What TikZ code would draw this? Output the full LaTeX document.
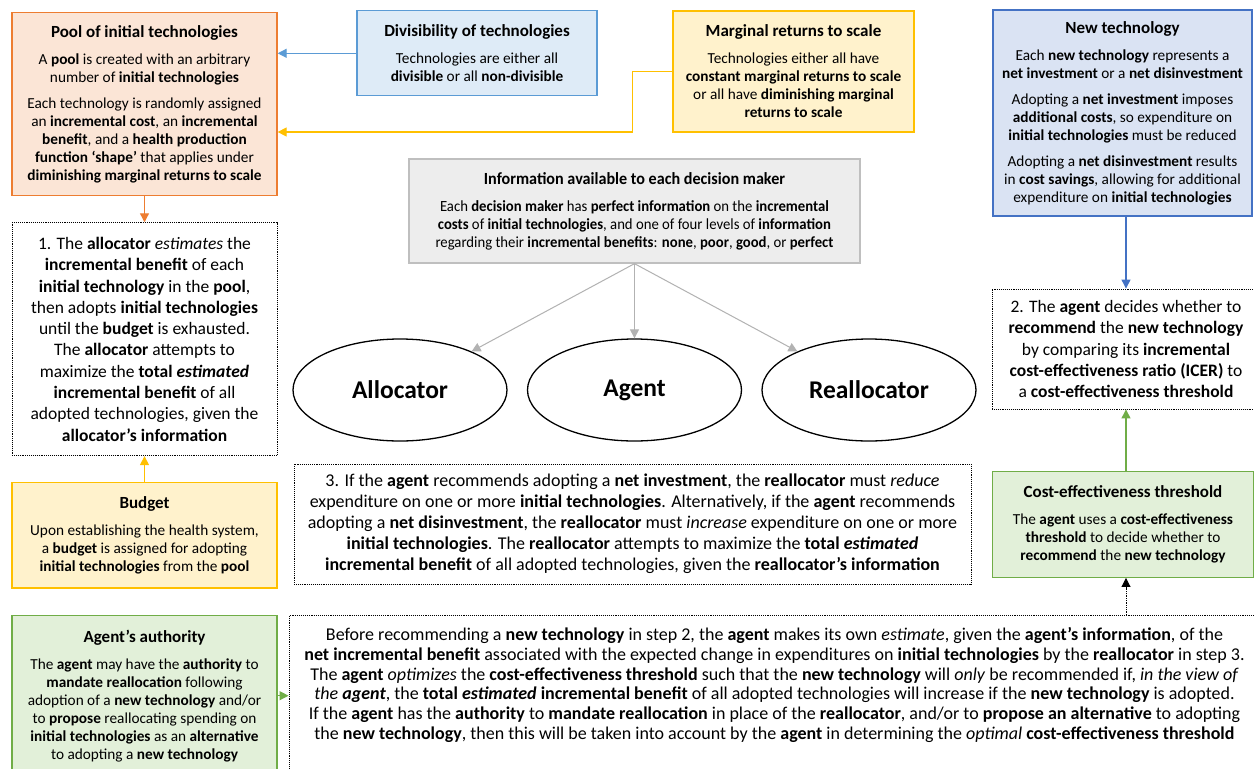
\documentclass[tikz,border=0pt]{standalone}
\usepackage{fontspec}
\setmainfont{Carlito}
\newfontfamily\narrowfont{Carlito}[FakeStretch=0.95]
\usepackage{tikz}
\usetikzlibrary{arrows.meta,positioning,shapes.geometric}
\definecolor{poolorange}{HTML}{ED7D31}
\definecolor{poolfill}{HTML}{FBE5D6}
\definecolor{divblue}{HTML}{5B9BD5}
\definecolor{divfill}{HTML}{DEEBF7}
\definecolor{margyellow}{HTML}{FFC000}
\definecolor{margfill}{HTML}{FFF2CC}
\definecolor{newblue}{HTML}{4472C4}
\definecolor{newfill}{HTML}{DAE3F3}
\definecolor{infogray}{HTML}{BFBFBF}
\definecolor{infofill}{HTML}{EDEDED}
\definecolor{cetgreen}{HTML}{70AD47}
\definecolor{cetfill}{HTML}{E2F0D9}
\newcommand{\boxtitle}[1]{{\fontsize{17}{20}\selectfont\bfseries #1}}
\newcommand{\bodytext}{\fontsize{15.3}{18}\selectfont}
\newcommand{\steptext}{\fontsize{17.5}{21.3}\selectfont}

\begin{document}
\begin{tikzpicture}[x=1pt,y=-1pt,
  box/.style={draw,line width=1.3pt,align=center,inner sep=0pt,font=\bodytext},
  stepbox/.style={draw=black,densely dotted,line width=0.9pt,align=center,inner sep=0pt,font=\steptext},
  decider/.style={ellipse,draw,line width=1.3pt,minimum width=214pt,minimum height=102pt,inner sep=0pt,font=\fontsize{25.5}{28}\selectfont\bfseries},
  arrow/.style={-{Triangle[length=9pt,width=9pt]},line width=1.3pt}
]
\clip (0,0) rectangle (1254,769);
\fill[white] (0,0) rectangle (1254,769);
% inputs along the top
\node[box,draw=poolorange,fill=poolfill,minimum width=265pt,minimum height=183pt] (pool) at (144.5,104.3) {\boxtitle{Pool of initial technologies}\\[9pt]
A \textbf{pool} is created with an arbitrary\\ number of \textbf{initial technologies}\\[8pt]
Each technology is randomly assigned\\ an \textbf{incremental cost}, an \textbf{incremental}\\ \textbf{benefit}, and a \textbf{health production}\\ \textbf{function ‘shape’} that applies under\\ \textbf{diminishing marginal returns to scale}};
\node[box,draw=divblue,fill=divfill,minimum width=240pt,minimum height=85pt] (divis) at (477,53.3) {\boxtitle{Divisibility of technologies}\\[9pt]
Technologies are either all\\ \textbf{divisible} or all \textbf{non-divisible}};
\node[box,draw=margyellow,fill=margfill,minimum width=241pt,minimum height=121pt] (margin) at (793.5,71.5) {\boxtitle{Marginal returns to scale}\\[9pt]
Technologies either all have\\ \textbf{constant marginal returns to scale}\\ or all have \textbf{diminishing marginal}\\ \textbf{returns to scale}};
\node[box,draw=newblue,fill=newfill,minimum width=259pt,minimum height=206pt] (newtech) at (1122.5,113) {\boxtitle{New technology}\\[9pt]
Each \textbf{new technology} represents a\\ \textbf{net investment} or a \textbf{net disinvestment}\\[8pt]
Adopting a \textbf{net investment} imposes\\ \textbf{additional costs}, so expenditure on\\ \textbf{initial technologies} must be reduced\\[8pt]
Adopting a \textbf{net disinvestment} results\\ in \textbf{cost savings}, allowing for additional\\ expenditure on \textbf{initial technologies}};
% decision makers
\node[box,draw=infogray,fill=infofill,minimum width=451pt,minimum height=104pt,font=\fontsize{15.5}{18}\narrowfont] (info) at (634.5,211) {\boxtitle{Information available to each decision maker}\\[9pt]
Each \textbf{decision maker} has \textbf{perfect information} on the \textbf{incremental}\\ \textbf{costs} of \textbf{initial technologies}, and one of four levels of \textbf{information}\\ regarding their \textbf{incremental benefits}: \textbf{none}, \textbf{poor}, \textbf{good}, or \textbf{perfect}};
\node[decider] (allocator) at (400,390) {Allocator};
\node[decider] (agent) at (634.5,390) {Agent};
\node[decider] (reallocator) at (869,390) {Reallocator};
% steps
\node[stepbox,minimum width=265pt,minimum height=233pt] (stepone) at (144.5,339.2) {1. The \textbf{allocator} \textit{estimates} the\\ \textbf{incremental benefit} of each\\ \textbf{initial technology} in the \textbf{pool},\\ then adopts \textbf{initial technologies}\\ until the \textbf{budget} is exhausted.\\ The \textbf{allocator} attempts to\\ maximize the \textbf{total \textit{estimated}}\\ \textbf{incremental benefit} of all\\ adopted technologies, given the\\ \textbf{allocator’s information}};
\node[stepbox,minimum width=268pt,minimum height=120pt] (steptwo) at (1126,349) {2. The \textbf{agent} decides whether to\\ \textbf{recommend} the \textbf{new technology}\\ by comparing its \textbf{incremental}\\ \textbf{cost-effectiveness ratio (ICER)} to\\ a \textbf{cost-effectiveness threshold}};
\node[stepbox,minimum width=677pt,minimum height=120pt,font=\fontsize{18}{21}\selectfont] (stepthree) at (632.5,524) {3. If the \textbf{agent} recommends adopting a \textbf{net investment}, the \textbf{reallocator} must \textit{reduce}\\ expenditure on one or more \textbf{initial technologies}. Alternatively, if the \textbf{agent} recommends\\ adopting a \textbf{net disinvestment}, the \textbf{reallocator} must \textit{increase} expenditure on one or more\\ \textbf{initial technologies}. The \textbf{reallocator} attempts to maximize the \textbf{total \textit{estimated}}\\ \textbf{incremental benefit} of all adopted technologies, given the \textbf{reallocator’s information}};
% lower inputs
\node[box,draw=margyellow,fill=margfill,minimum width=265pt,minimum height=105.3pt] (budget) at (144.5,535.3) {\boxtitle{Budget}\\[9pt]
Upon establishing the health system,\\ a \textbf{budget} is assigned for adopting\\ \textbf{initial technologies} from the \textbf{pool}};
\node[box,draw=cetgreen,fill=cetfill,minimum width=261pt,minimum height=105.6pt] (costeff) at (1123,524.5) {\boxtitle{Cost-effectiveness threshold}\\[9pt]
The \textbf{agent} uses a \textbf{cost-effectiveness}\\ \textbf{threshold} to decide whether to\\ \textbf{recommend} the \textbf{new technology}};
\node[box,draw=cetgreen,fill=cetfill,minimum width=265pt,minimum height=160pt] (authority) at (144.5,695.7) {\boxtitle{Agent’s authority}\\[9pt]
The \textbf{agent} may have the \textbf{authority} to\\ \textbf{mandate reallocation} following\\ adoption of a \textbf{new technology} and/or\\ to \textbf{propose} reallocating spending on\\ \textbf{initial technologies} as an \textbf{alternative}\\ to adopting a \textbf{new technology}};
\node[stepbox,anchor=north,minimum width=971pt,inner ysep=12pt,font=\fontsize{18}{19.8}\selectfont] (optimize) at (774.5,615) {Before recommending a \textbf{new technology} in step 2, the \textbf{agent} makes its own \textit{estimate}, given the \textbf{agent’s information}, of the\\ \textbf{net incremental benefit} associated with the expected change in expenditures on \textbf{initial technologies} by the \textbf{reallocator} in step 3.\\ The \textbf{agent} \textit{optimizes} the \textbf{cost-effectiveness threshold} such that the \textbf{new technology} will \textit{only} be recommended if, \textit{in the view of}\\ \textit{the \textbf{agent}}, the \textbf{total \textit{estimated}} \textbf{incremental benefit} of all adopted technologies will increase if the \textbf{new technology} is adopted.\\ If the \textbf{agent} has the \textbf{authority} to \textbf{mandate reallocation} in place of the \textbf{reallocator}, and/or to \textbf{propose an alternative} to adopting\\ the \textbf{new technology}, then this will be taken into account by the \textbf{agent} in determining the \textit{optimal} \textbf{cost-effectiveness threshold}\rule[-40pt]{0pt}{40pt}};
% connectors
\draw[arrow,divblue] (divis.west) -- (divis.west -| pool.east);
\draw[arrow,margyellow] (margin.west) -- ++(-40,0) |- ([yshift=-27.7pt]pool.east);
\draw[arrow,poolorange] (pool.south) -- (stepone.north);
\draw[arrow,margyellow] (budget.north) -- (stepone.south);
\draw[arrow,newblue] (steptwo.north |- newtech.south) -- (steptwo.north);
\draw[arrow,cetgreen] (steptwo.south |- costeff.north) -- (steptwo.south);
\draw[arrow,black,densely dotted,line width=0.9pt] (steptwo.south |- optimize.north) -- (steptwo.south |- costeff.south);
\draw[arrow,cetgreen] (authority.east) -- (authority.east -| optimize.west);
\foreach \who in {allocator,agent,reallocator}
  \draw[arrow,infogray!80!gray,line width=1pt] (info.south) -- (\who);
\end{tikzpicture}
\end{document}
